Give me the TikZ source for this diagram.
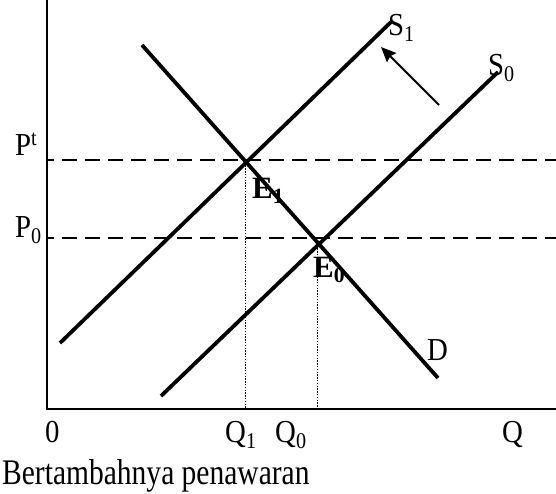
\documentclass[tikz,border=0pt]{standalone}
\usepackage{fontspec}
\setmainfont[FakeStretch=0.9]{Liberation Serif}
\newfontfamily\titlefont[FakeStretch=0.82]{Liberation Serif}
\newfontfamily\boldserif{Liberation Serif}
\usepackage{tikz}
\usetikzlibrary{arrows.meta, positioning, calc}

\begin{document}
\begin{tikzpicture}[x=1pt, y=-1pt, >=Stealth,
    curve/.style={line width=3.8pt},
    axis/.style={line width=1.6pt},
    level/.style={line width=2.6pt, dash pattern=on 15pt off 8pt, dash phase=8pt},
    guide/.style={line width=1pt, dash pattern=on 1.4pt off 1.4pt},
    lbl/.style={font=\fontsize{32}{36}\selectfont, inner sep=0pt, anchor=base west}]
  \useasboundingbox (0,0) rectangle (556,493);
  % Axes
  \coordinate (top) at (47,0);
  \coordinate (origin) at (47,409);
  \coordinate (right) at (556,409);
  \draw[axis] (top) -- (origin) -- (right);
  % Equilibrium points
  \coordinate (eOne) at (245,160);
  \coordinate (eZero) at (317,240);
  % Price levels
  \draw[level] (47,160) -- (556,160);
  \draw[level] (47,238) -- (556,238);
  % Quantity guides
  \draw[guide] (eOne) -- (eOne |- origin);
  \draw[guide] (eZero) -- (eZero |- origin);
  % Demand
  \coordinate (dTop) at (142,45);
  \coordinate (dEnd) at (438,378);
  \draw[curve] (dTop) -- (dEnd);
  % Supply before and after
  \coordinate (sOneLow) at (60,343);
  \coordinate (sOneHigh) at (391,22);
  \draw[curve] (sOneLow) -- (sOneHigh);
  \coordinate (sZeroLow) at (161,396);
  \coordinate (sZeroHigh) at (498,72);
  \draw[curve] (sZeroLow) -- (sZeroHigh);
  % Shift
  \coordinate (shiftFrom) at (439,105);
  \coordinate (shiftTo) at (381,47);
  \draw[->, line width=2pt, >={Stealth[length=15pt, width=13pt, inset=2pt]}] (shiftFrom) -- (shiftTo);
  % Labels
  \node[lbl] (pt) at (15,155) {P\textsuperscript{t}};
  \node[lbl] (pzero) at (15,237) {P\textsubscript{0}};
  \node[lbl] (zero) at (45,442) {0};
  \node[lbl] (qone) at (225,442) {Q\textsubscript{1}};
  \node[lbl] (qzero) at (275,442) {Q\textsubscript{0}};
  \node[lbl] (q) at (502,442) {Q};
  \node[lbl] (sone) at (388,35) {S\textsubscript{1}};
  \node[lbl] (szero) at (488,75) {S\textsubscript{0}};
  \node[lbl] (d) at (427,360) {D};
  \node[lbl, font=\boldserif\bfseries\fontsize{31}{36}\selectfont] (eone) at (252,198) {E\textsubscript{1}};
  \node[lbl, font=\boldserif\bfseries\fontsize{31}{36}\selectfont] (ezero) at (313,277) {E\textsubscript{0}};
  \node[lbl, font=\titlefont\fontsize{36}{40}\selectfont] (title) at (2,484) {Bertambahnya penawaran};
\end{tikzpicture}
\end{document}
